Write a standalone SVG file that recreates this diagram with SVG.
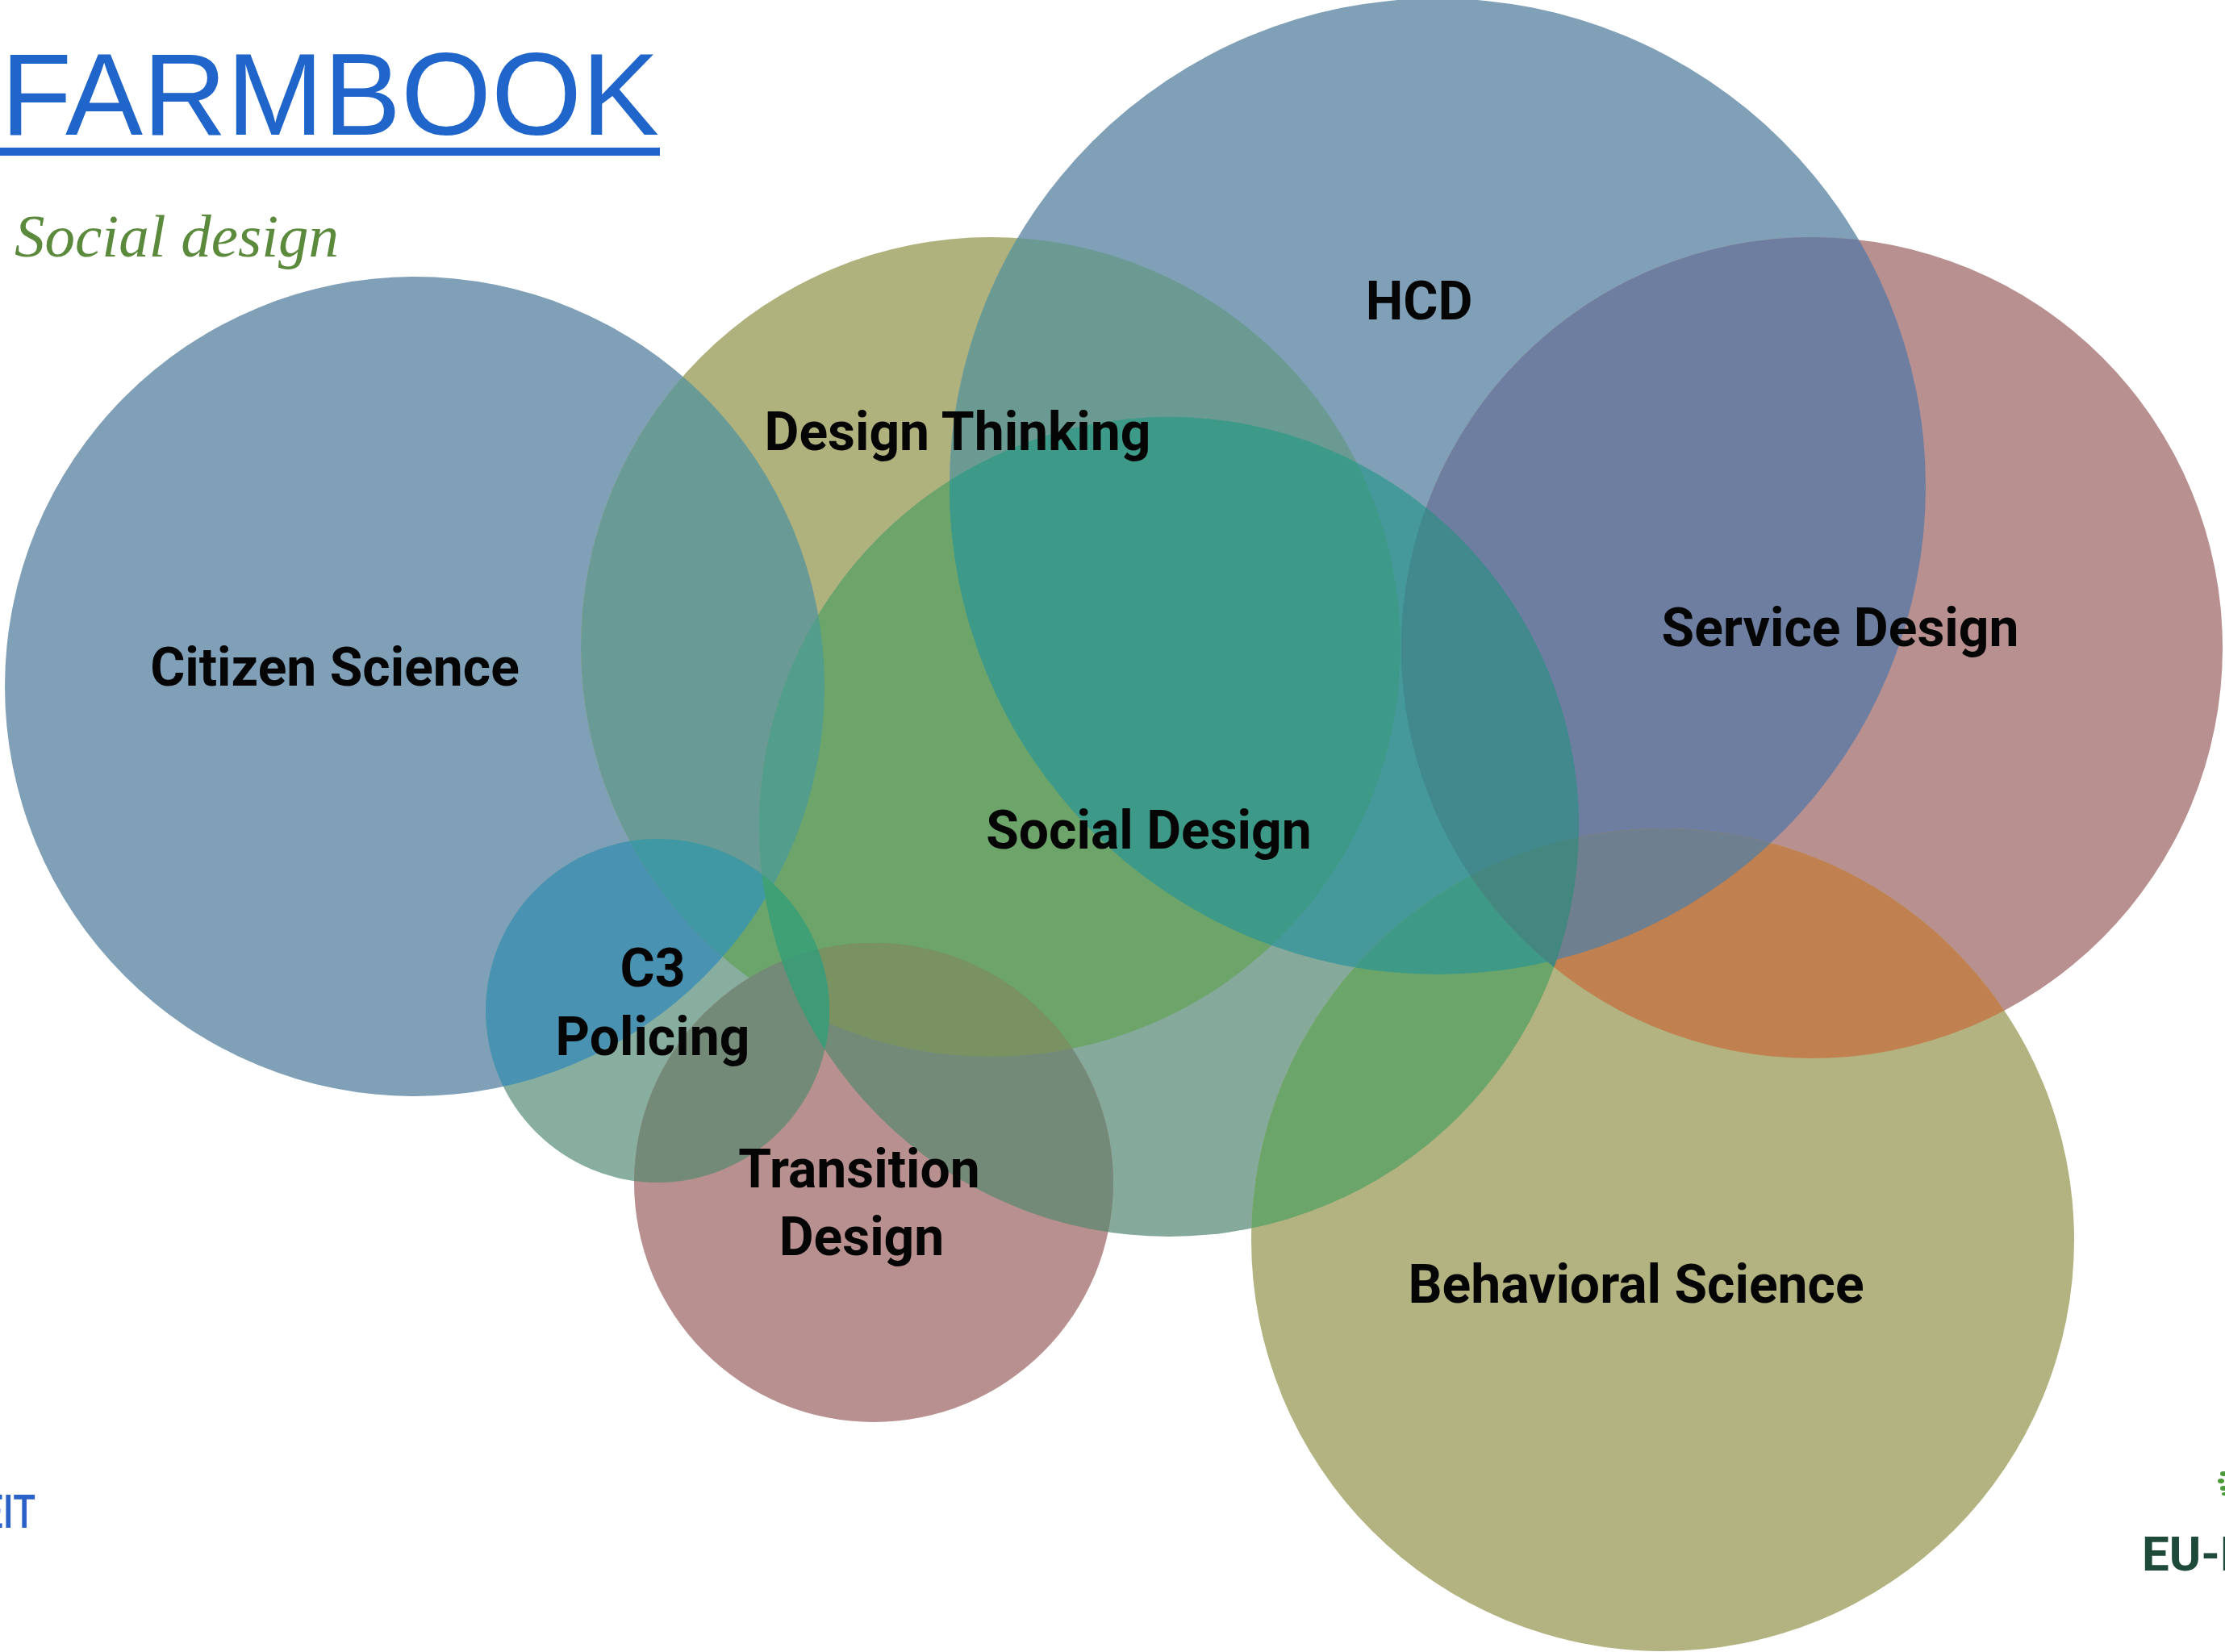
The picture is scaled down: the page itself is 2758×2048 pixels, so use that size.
<svg xmlns="http://www.w3.org/2000/svg" xmlns:xlink="http://www.w3.org/1999/xlink" width="2758" height="2048" viewBox="0 0 2758 2048">
<style>
.lbl{font-family:Roboto,"Liberation Sans",sans-serif;font-weight:700;font-size:66px;fill:#050505;text-anchor:middle}
.title{font-family:"Liberation Sans",Arial,sans-serif;font-size:144px;fill:#2065c9}
.sub{font-family:"Liberation Serif","Times New Roman",serif;font-style:italic;font-size:75px;fill:#5b8a3c}
</style>
<defs>
<circle id="c1" cx="514" cy="851" r="508"/>
<circle id="c2" cx="1228" cy="802" r="508"/>
<circle id="c3" cx="1782" cy="603" r="605"/>
<circle id="c4" cx="2246" cy="803" r="509"/>
<circle id="c5" cx="1449" cy="1025" r="508"/>
<circle id="c6" cx="815" cy="1253" r="213"/>
<circle id="c7" cx="1083" cy="1466" r="297"/>
<circle id="c8" cx="2061" cy="1537" r="510"/>
<clipPath id="k1"><circle cx="514" cy="851" r="508"/></clipPath>
<clipPath id="k2"><circle cx="1228" cy="802" r="508"/></clipPath>
<clipPath id="k3"><circle cx="1782" cy="603" r="605"/></clipPath>
<clipPath id="k4"><circle cx="2246" cy="803" r="509"/></clipPath>
<clipPath id="k5"><circle cx="1449" cy="1025" r="508"/></clipPath>
<clipPath id="k6"><circle cx="815" cy="1253" r="213"/></clipPath>
<clipPath id="k7"><circle cx="1083" cy="1466" r="297"/></clipPath>
<clipPath id="k8"><circle cx="2061" cy="1537" r="510"/></clipPath>
</defs>
<rect width="2758" height="2048" fill="#ffffff"/>

<g id="header">
<text class="title" x="1" y="167">FARMBOOK</text>
<rect x="0" y="183" width="818" height="10" fill="#2065c9"/>
<text class="sub" x="18" y="318">Social design</text>
</g>

<g id="nodes">
<g id="node-citizen-science"><use xlink:href="#c1" fill="#80a0b8"/></g>
<g id="node-design-thinking"><use xlink:href="#c2" fill="#b0b27e"/></g>
<g id="node-hcd"><use xlink:href="#c3" fill="#80a0b8"/></g>
<g id="node-service-design"><use xlink:href="#c4" fill="#b89090"/></g>
<g id="node-social-design"><use xlink:href="#c5" fill="#85a99b"/></g>
<g id="node-c3-policing"><use xlink:href="#c6" fill="#88ae9f"/></g>
<g id="node-transition-design"><use xlink:href="#c7" fill="#b89090"/></g>
<g id="node-behavioral-science"><use xlink:href="#c8" fill="#b2b380"/></g>
</g>

<g id="overlaps">
<g clip-path="url(#k1)"><use xlink:href="#c2" fill="#6a9a96"/><use xlink:href="#c5" fill="#5a9c8c"/><use xlink:href="#c6" fill="#4992b2"/></g>
<g clip-path="url(#k2)"><use xlink:href="#c3" fill="#6a9a92"/><use xlink:href="#c5" fill="#6ca46a"/><use xlink:href="#c6" fill="#6ca56b"/><use xlink:href="#c7" fill="#7a9262"/></g>
<g clip-path="url(#k3)"><use xlink:href="#c4" fill="#6e7ea0"/><use xlink:href="#c5" fill="#45999a"/><use xlink:href="#c8" fill="#6e8a90"/></g>
<g clip-path="url(#k4)"><use xlink:href="#c5" fill="#42898e"/><use xlink:href="#c8" fill="#c1804f"/></g>
<g clip-path="url(#k5)"><use xlink:href="#c7" fill="#748a78"/><use xlink:href="#c8" fill="#6ca56a"/></g>
<g clip-path="url(#k6)"><use xlink:href="#c7" fill="#748a78"/></g>
<!-- triples -->
<g clip-path="url(#k1)"><g clip-path="url(#k2)"><use xlink:href="#c5" fill="#539d8c"/><use xlink:href="#c6" fill="#3f98a4"/></g></g>
<g clip-path="url(#k2)"><g clip-path="url(#k5)"><use xlink:href="#c3" fill="#3e9a88"/><use xlink:href="#c7" fill="#7a9262"/></g></g>
<g clip-path="url(#k3)"><g clip-path="url(#k5)"><use xlink:href="#c4" fill="#42898e"/><use xlink:href="#c8" fill="#3e9a86"/></g></g>
<g clip-path="url(#k3)"><g clip-path="url(#k4)"><use xlink:href="#c8" fill="#6e7f8f"/></g></g>
<g clip-path="url(#k4)"><g clip-path="url(#k5)"><use xlink:href="#c8" fill="#44877f"/></g></g>
<g clip-path="url(#k5)"><use xlink:href="#c6" fill="#40a075"/></g>
<g clip-path="url(#k6)"><g clip-path="url(#k5)"><use xlink:href="#c7" fill="#3f9a78"/></g></g>
</g>

<g id="labels">
<text id="label-citizen-science" class="lbl" x="415" y="850">Citizen Science</text>
<text id="label-design-thinking" class="lbl" x="1187" y="558">Design Thinking</text>
<text id="label-hcd" class="lbl" x="1759" y="396">HCD</text>
<text id="label-service-design" class="lbl" x="2281" y="801">Service Design</text>
<text id="label-social-design" class="lbl" x="1424" y="1052">Social Design</text>
<text id="label-c3-policing" class="lbl"><tspan x="809" y="1223">C3</tspan><tspan x="809" y="1308">Policing</tspan></text>
<text id="label-transition-design" class="lbl"><tspan x="1065" y="1472">Transition</tspan><tspan x="1068" y="1556">Design</tspan></text>
<text id="label-behavioral-science" class="lbl" x="2028" y="1615">Behavioral Science</text>
</g>

<g id="footer">
<text x="-22" y="1894" font-family="Roboto,'Liberation Sans',sans-serif" font-weight="500" font-size="58" fill="#2a62c8" textLength="66" lengthAdjust="spacingAndGlyphs">EIT</text>
<text x="2655" y="1947" font-family="Roboto,'Liberation Sans',sans-serif" font-weight="700" font-size="60" fill="#1e4a3a">EU-F</text>
<g fill="#4a9a3a">
<ellipse cx="2756" cy="1827" rx="4" ry="3"/>
<ellipse cx="2753" cy="1836" rx="4" ry="3"/>
<ellipse cx="2756" cy="1845" rx="4" ry="3"/>
<ellipse cx="2757" cy="1852" rx="3" ry="2"/>
</g>
</g>
</svg>
